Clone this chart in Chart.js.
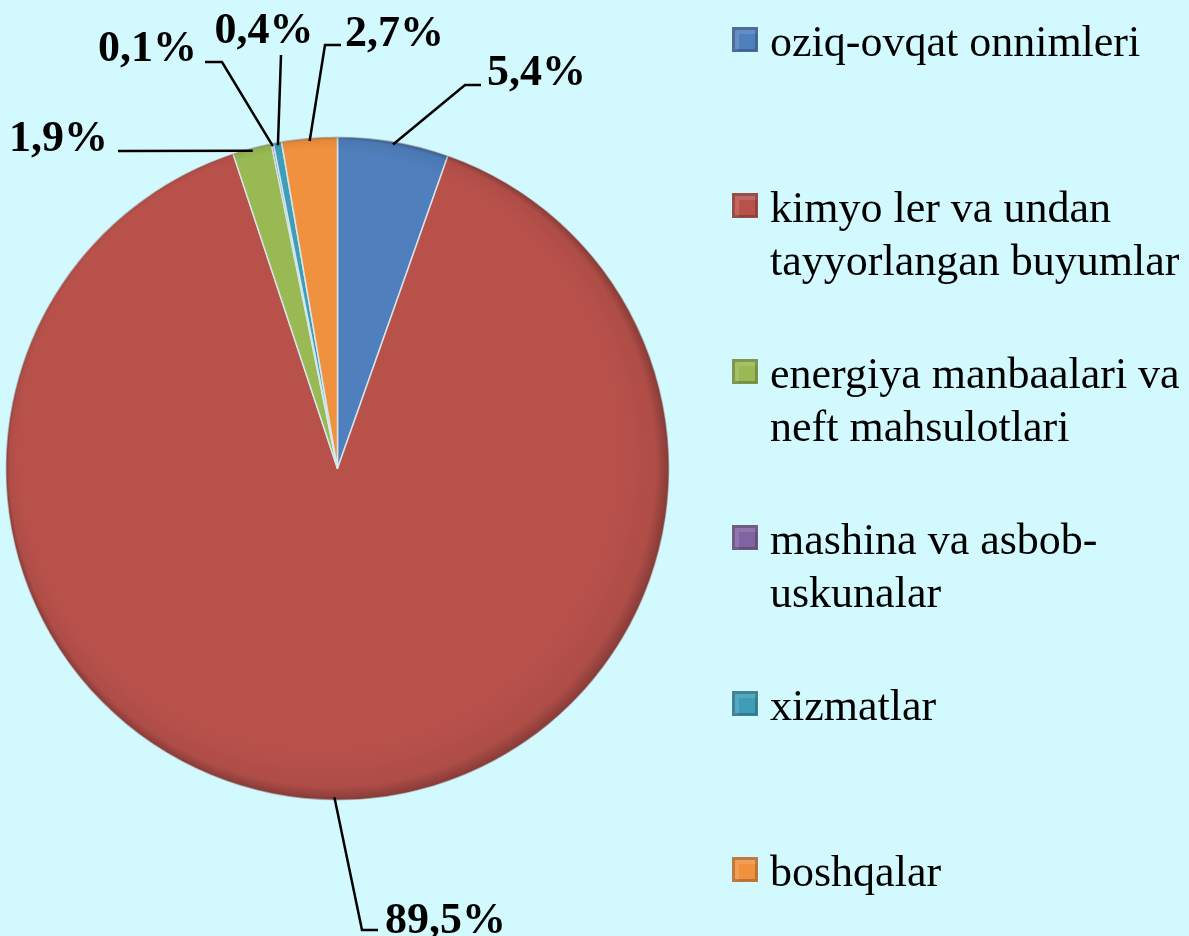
<!DOCTYPE html>
<html>
<head>
<meta charset="utf-8">
<script src="https://cdn.jsdelivr.net/npm/chart.js@4.4.1/dist/chart.umd.min.js"></script>
<style>
  html, body { margin: 0; padding: 0; background: #D2F9FE; }
  #wrap   { position: relative; width: 1189px; height: 936px; overflow: hidden; }
  #pie    { position: absolute; left: 0; top: 0; }
  #legend { position: absolute; left: 0; top: 0; width: 1189px; height: 936px;
            font-family: "Liberation Serif", "Times New Roman", serif; font-size: 44px; line-height: 53px; color: #000; }
  .li     { position: absolute; left: 770px; white-space: nowrap; }
  .sw     { position: absolute; left: 732px; width: 26px; height: 25px; box-sizing: border-box;
            box-shadow: inset 0 0 0 3px rgba(0,0,0,0.22), inset 3px 3px 0 4px rgba(255,255,255,0.12); }
</style>
</head>
<body>
<div id="wrap">
  <canvas id="pie" width="1189" height="936"></canvas>
  <div id="legend"></div>
</div>
<script>
/* ============================================================
   DATA
   ============================================================ */

const categories = [
  ['oziq-ovqat onnimleri'],
  ['kimyo ler va undan', 'tayyorlangan buyumlar'],
  ['energiya manbaalari va', 'neft mahsulotlari'],
  ['mashina va asbob-', 'uskunalar'],
  ['xizmatlar'],
  ['boshqalar'],
];
const shares = [5.4, 89.5, 1.9, 0.1, 0.4, 2.7];
const sliceColors = ['#4F7FBC', '#B9514B', '#98B954', '#8064A2', '#3F9DB8', '#F0913F'];

// where each percentage label sits (text anchor + leader line elbow points)
const labelPlace = [
  { tx: 487, ty: 85,  align: 'left',   path: [[465, 85], [481, 85]] },
  { tx: 385, ty: 933, align: 'left',   path: [[362, 930], [378, 930]] },
  { tx: 108, ty: 151, align: 'right',  path: [[118, 151]] },
  { tx: 197, ty: 61,  align: 'right',  path: [[222, 62], [205, 62]] },
  { tx: 264, ty: 43,  align: 'center', path: [[281, 55]] },
  { tx: 345, ty: 46,  align: 'left',   path: [[325, 45], [341, 45]] },
];

const fmtPct = v => v.toFixed(1).replace('.', ',') + '%';

/* ============================================================
   PLUGIN: rim shading + leader-line labels
   ============================================================ */

const leaderLabels = {
  id: 'leaderLabels',
  afterDatasetsDraw(chart) {
    const ctx  = chart.ctx;
    const meta = chart.getDatasetMeta(0);
    if (!meta.data.length) return;

    // soft darkening towards the outer edge, like the bevelled original
    const a0 = meta.data[0].getProps(['x', 'y', 'outerRadius'], true);
    const g  = ctx.createRadialGradient(a0.x - 20, a0.y - 20, a0.outerRadius * 0.9, a0.x, a0.y, a0.outerRadius);
    g.addColorStop(0, 'rgba(0,0,0,0)');
    g.addColorStop(0.75, 'rgba(0,0,0,0.06)');
    g.addColorStop(1, 'rgba(0,0,0,0.28)');
    ctx.save();
    ctx.beginPath();
    ctx.arc(a0.x, a0.y, a0.outerRadius, 0, Math.PI * 2);
    ctx.fillStyle = g;
    ctx.fill();
    ctx.restore();

    ctx.save();
    ctx.font = 'bold 44px "Liberation Serif", "Times New Roman", serif';
    ctx.fillStyle = '#000';
    ctx.strokeStyle = '#000';
    ctx.lineWidth = 2.5;
    ctx.textBaseline = 'alphabetic';
    meta.data.forEach((arc, i) => {
      const { x, y, startAngle, endAngle, outerRadius } =
        arc.getProps(['x', 'y', 'startAngle', 'endAngle', 'outerRadius'], true);
      const mid = (startAngle + endAngle) / 2;
      const p   = labelPlace[i];
      ctx.beginPath();
      ctx.moveTo(x + Math.cos(mid) * (outerRadius - 3), y + Math.sin(mid) * (outerRadius - 3));
      p.path.forEach(([px, py]) => ctx.lineTo(px, py));
      ctx.stroke();
      ctx.textAlign = p.align;
      ctx.fillText(fmtPct(shares[i]), p.tx, p.ty);
    });
    ctx.restore();
  },
};

/* ============================================================
   PIE
   ============================================================ */

new Chart(document.getElementById('pie'), {
  type: 'pie',
  data: {
    labels: categories,
    datasets: [{
      data: shares,
      backgroundColor: sliceColors,
      borderColor: 'rgba(215,235,240,0.9)',
      borderWidth: 1.5,
    }],
  },
  options: {
    responsive: false,
    animation: false,
    layout: { padding: { left: 5, right: 519, top: 136, bottom: 135 } },
    plugins: { legend: { display: false }, tooltip: { enabled: false } },
  },
  plugins: [leaderLabels],
});

/* ============================================================
   LEGEND (html, one item every 166px)
   ============================================================ */

const legend = document.getElementById('legend');
legend.innerHTML = categories.map((lines, i) => `
  <div class="sw" style="top:${27 + 166 * i}px;background:${sliceColors[i]}"></div>
  <div class="li" style="top:${15 + 166 * i}px">${lines.join('<br>')}</div>`).join('');
</script>
</body>
</html>
